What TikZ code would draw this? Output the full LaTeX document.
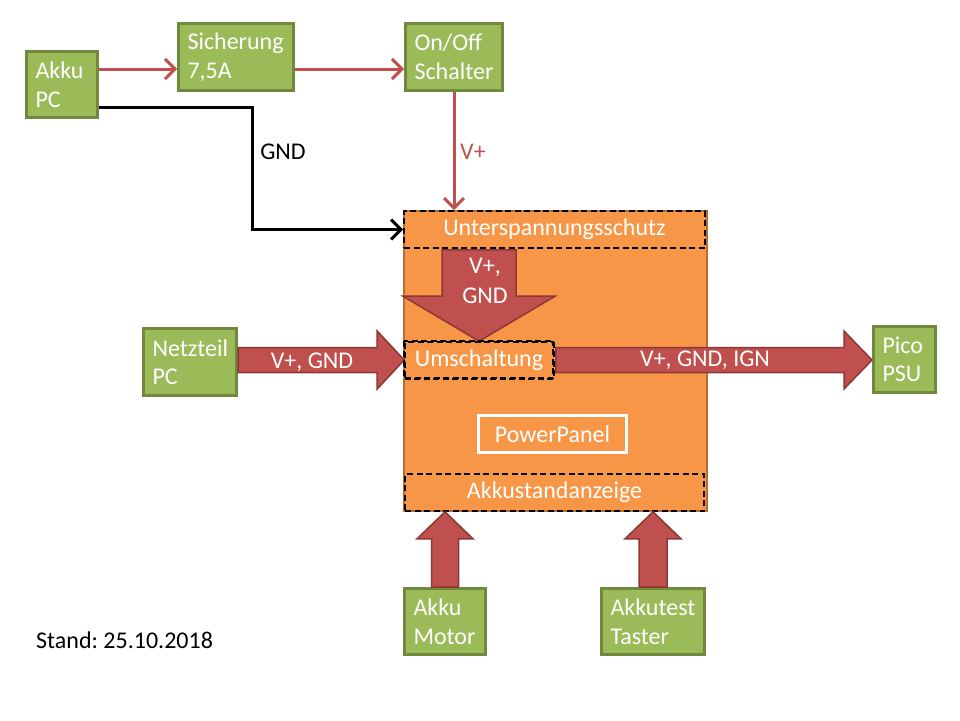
\documentclass[tikz,border=0pt]{standalone}
\usepackage{fontspec}
\setmainfont{Carlito}
\frenchspacing
\usetikzlibrary{arrows.meta,calc}
\definecolor{gfill}{HTML}{9BBB59}
\definecolor{gline}{HTML}{71893F}
\definecolor{rfill}{HTML}{C0504D}
\definecolor{rline}{HTML}{8C3836}
\definecolor{ofill}{HTML}{F79646}
\definecolor{oline}{HTML}{B66D31}
\tikzset{
  gbox/.style={draw=gline,line width=3pt,fill=gfill,text=white,font=\fontsize{24}{28.5}\selectfont,align=left,inner xsep=9pt,inner ysep=0pt,minimum height=#1},
  gbox/.default=66pt,
  dashline/.style={draw=black,line width=1.6pt,dash pattern=on 6pt off 3.5pt},
  dbox/.style={dashline,text=white,font=\fontsize{24}{28}\selectfont,inner sep=0pt},
  redline/.style={draw=rfill,line width=3pt,-{Straight Barb[length=10pt,width=20pt,line width=3pt]}},
  blackline/.style={draw=black,line width=3pt,-{Straight Barb[length=10pt,width=20pt,line width=3pt]}},
  fat/.style={fill=rfill,draw=rline,line width=1.5pt,line join=miter},
  lbl/.style={text=white,font=\fontsize{24}{30}\selectfont,align=center,inner sep=0pt},
  plain/.style={font=\fontsize{24}{28}\selectfont,inner sep=0pt}
}
\begin{document}
\begin{tikzpicture}[x=1pt,y=-1pt]
\useasboundingbox (0,0) rectangle (960,720);
% main orange block
\node[draw=oline,line width=2pt,fill=ofill,minimum width=303pt,minimum height=300pt,inner sep=0pt] (panel) at (555.5,361) {};
\node[dbox,minimum width=301pt,minimum height=37pt] (unter) at (554.5,229.5) {Unterspannungsschutz};
\node[dbox,minimum width=148pt,minimum height=36pt] (umsch) at (479,360) {};
\node[dbox,minimum width=299pt,minimum height=37pt] (anz) at (554.5,492.5) {Akkustandanzeige};
\node[draw=white,line width=3pt,fill=ofill,text=white,font=\fontsize{24}{28}\selectfont,minimum width=148pt,minimum height=37pt,inner sep=0pt] (pp) at (552.5,434) {PowerPanel};
% green boxes
\node[gbox,text width=53pt] (akku) at (62,84.5) {Akku\\PC};
\node[gbox=67pt,text width=97pt] (sich) at (236,57) {Sicherung\\7,5A};
\node[gbox=67pt,text width=79pt] (onoff) at (454,57) {On/Off\\Schalter};
\node[gbox=67pt,text width=75pt] (netz) at (190,362) {Netzteil\\PC};
\node[gbox,text width=44pt] (pico) at (904.5,359.5) {Pico\\PSU};
\node[gbox,text width=63pt] (motor) at (445,621.5) {Akku\\Motor};
\node[gbox,text width=85pt] (taster) at (653,621.5) {Akkutest\\Taster};
% thin connectors
\draw[redline] ([yshift=15.5pt]akku.east) -- ([yshift=15.5pt]akku.east -| sich.west);
\draw[redline] ([yshift=15.5pt]akku.east -| sich.east) -- ([yshift=15.5pt]akku.east -| onoff.west);
\draw[redline] (onoff.south) -- (onoff.south |- unter.north);
\coordinate (gndbend) at (252,0);
\draw[blackline,line join=miter] ([yshift=-22.5pt]akku.east) -| (gndbend |- unter.west) -- (unter.west);
\node[plain] (gndlbl) at (283,152) {GND};
\node[plain,text=rfill] (vlbl) at (473,152) {V+};
% fat arrows
\draw[fat] ([yshift=12.5pt]netz.east |- umsch.west) -- ([xshift=-27pt,yshift=12.5pt]umsch.west) -- ([xshift=-27pt,yshift=29pt]umsch.west) -- (umsch.west) -- ([xshift=-27pt,yshift=-29pt]umsch.west) -- ([xshift=-27pt,yshift=-12.5pt]umsch.west) -- ([yshift=-12.5pt]netz.east |- umsch.west) -- cycle;
\draw[fat] ([xshift=2pt,yshift=12.5pt]umsch.east) -- ([xshift=-28pt,yshift=12.5pt]umsch.east -| pico.west) -- ([xshift=-28pt,yshift=29pt]umsch.east -| pico.west) -- (umsch.east -| pico.west) -- ([xshift=-28pt,yshift=-29pt]umsch.east -| pico.west) -- ([xshift=-28pt,yshift=-12.5pt]umsch.east -| pico.west) -- ([xshift=2pt,yshift=-12.5pt]umsch.east) -- cycle;
\draw[fat] ([xshift=-37pt,yshift=-1pt]unter.south -| umsch.north) -- ([xshift=-37pt,yshift=45pt]umsch.north) -- ([xshift=-76pt,yshift=45pt]umsch.north) -- (umsch.north) -- ([xshift=76pt,yshift=45pt]umsch.north) -- ([xshift=37pt,yshift=45pt]umsch.north) -- ([xshift=37pt,yshift=-1pt]unter.south -| umsch.north) -- cycle;
\draw[fat] ([xshift=-13.5pt]motor.north) -- ([xshift=-13.5pt,yshift=-27pt]motor.north |- anz.south) -- ([xshift=-28pt,yshift=-27pt]motor.north |- anz.south) -- (motor.north |- anz.south) -- ([xshift=28pt,yshift=-27pt]motor.north |- anz.south) -- ([xshift=13.5pt,yshift=-27pt]motor.north |- anz.south) -- ([xshift=13.5pt]motor.north) -- cycle;
\draw[fat] ([xshift=-14pt]taster.north) -- ([xshift=-14pt,yshift=-27pt]taster.north |- anz.south) -- ([xshift=-28pt,yshift=-27pt]taster.north |- anz.south) -- (taster.north |- anz.south) -- ([xshift=28pt,yshift=-27pt]taster.north |- anz.south) -- ([xshift=14pt,yshift=-27pt]taster.north |- anz.south) -- ([xshift=14pt]taster.north) -- cycle;
% dashed outline of the switching box on top of the arrows, and its text
\draw[dashline] (umsch.north west) rectangle (umsch.south east);
\node[text=white,font=\fontsize{24}{28}\selectfont,inner sep=0pt] (umschtxt) at (umsch) {Umschaltung};
% arrow labels
\node[lbl] (l1) at (312,362) {V+, GND};
\node[lbl] (l2) at (705,360) {V+, GND, IGN};
\node[lbl] (l3) at (485,281) {V+,\\GND};
\node[plain,anchor=west] (stand) at (36,640) {Stand: 25.10.2018};
\end{tikzpicture}
\end{document}
